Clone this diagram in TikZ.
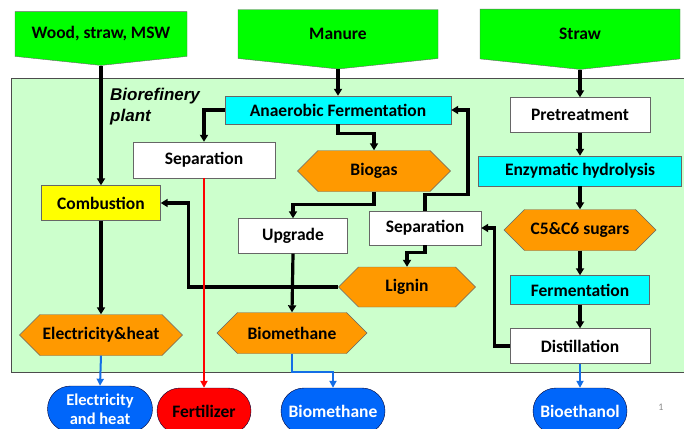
\documentclass[tikz,border=0pt]{standalone}
\usepackage{fontspec}
\setmainfont{Carlito}
\newfontfamily\plantfont{Liberation Sans}
\usetikzlibrary{arrows.meta,shapes.symbols,shapes.misc}

\definecolor{inGreen}{RGB}{0,255,0}
\definecolor{plantGreen}{RGB}{204,255,204}
\definecolor{procCyan}{RGB}{0,255,255}
\definecolor{prodOrange}{RGB}{255,153,0}
\definecolor{combYellow}{RGB}{255,255,0}
\definecolor{outBlue}{RGB}{0,102,250}
\definecolor{lineBlue}{RGB}{20,110,230}

\tikzset{
  every node/.style={font=\fontsize{17.5}{21}\selectfont\bfseries, inner sep=0pt},
  feed/.style={shape=signal, signal to=south, signal from=nowhere, signal pointer angle=168,
    fill=inGreen, draw=black!60, minimum width=172pt, minimum height=52pt},
  proc/.style={rectangle, draw=black!60, fill=white},
  prod/.style={shape=signal, signal to=east and west, signal pointer angle=90,
    fill=prodOrange, draw=black!60, minimum height=41pt},
  outlet/.style={rounded rectangle, draw=black!80!blue, fill=outBlue, text=white,
    minimum height=46pt, align=center},
  flow/.style={line width=3.2pt, -{Triangle[length=7pt,width=8pt]}},
  bflow/.style={line width=2pt, draw=lineBlue, -{Triangle[length=7pt,width=7pt]}, color=lineBlue},
}

\begin{document}
\begin{tikzpicture}[x=1pt,y=-1pt]
  \clip (0,0) rectangle (684,428);
  %\draw [help lines] (0,0) grid (684,428);
  \fill[white] (0,0) rectangle (684,428);
  \draw[black!70, fill=plantGreen] (11,78) rectangle (690,372);
  \node[align=left, anchor=north west, font=\fontsize{17}{21}\selectfont\plantfont\bfseries\itshape]
    (plant) at (110,88) {Biorefinery\\plant};

  % inputs
  \node[feed] (wood) at (101,34) {Wood, straw, MSW};
  \node[feed, minimum width=200pt] (manure) at (338,34) {Manure};
  \node[feed, minimum width=200pt] (straw) at (580,34) {Straw};

  % manure line
  \node[proc, fill=procCyan, minimum width=226pt, minimum height=28pt] (anaer) at (338,110) {Anaerobic Fermentation};
  \node[proc, minimum width=142pt, minimum height=36pt] (sepL) at (204,160) {Separation};
  \node[prod, minimum width=153pt] (biogas) at (374,171) {Biogas};
  \node[proc, minimum width=109pt, minimum height=35pt] (upgrade) at (293,236) {Upgrade};
  \node[prod, minimum width=150pt] (biometh) at (292,333) {Biomethane};

  % wood line
  \node[proc, fill=combYellow, minimum width=119pt, minimum height=35pt] (comb) at (101,203) {Combustion};
  \node[prod, minimum width=163pt] (elheat) at (101,335) {Electricity\&heat};

  % straw line
  \node[proc, minimum width=140pt, minimum height=35pt] (pretr) at (580,115) {Pretreatment};
  \node[proc, fill=procCyan, minimum width=203pt, minimum height=30pt] (enzym) at (580,171) {Enzymatic hydrolysis};
  \node[prod, minimum width=152pt] (sugars) at (580,230) {C5\&C6 sugars};
  \node[proc, fill=procCyan, minimum width=139pt, minimum height=29pt] (ferm) at (580,290) {Fermentation};
  \node[proc, minimum width=140pt, minimum height=35pt] (distil) at (580,346) {Distillation};
  \node[proc, minimum width=112pt, minimum height=34pt] (sepR) at (425,228) {Separation};
  \node[prod, minimum width=137pt, minimum height=40pt] (lignin) at (407,287) {Lignin};

  % outputs
  \node[outlet, minimum width=105pt, font=\fontsize{16.5}{19}\selectfont\bfseries] (elout) at (100,409) {Electricity\\and heat};
  \node[outlet, fill=red, text=black, minimum width=94pt] (fert) at (204,411) {Fertilizer};
  \node[outlet, minimum width=104pt] (bmout) at (333,411) {Biomethane};
  \node[outlet, minimum width=94pt] (beout) at (580,411) {Bioethanol};
  \node[font=\fontsize{10}{12}\selectfont, text=black!45] (page) at (661,407) {1};

  \draw[flow] (wood.south) -- (comb.north);
  \draw[flow] (comb.south) -- (elheat.north);
  \draw[flow] (manure.south) -- (anaer.north);
  \draw[flow] (anaer.west) -| (sepL.north);
  \draw[flow] (anaer.south) -- ++(0,9) -| (biogas.north);
  \draw[flow] (biogas.south) -- ++(0,13) -| (upgrade.north);
  \draw[flow] (upgrade.south) -- (biometh.north);
  \draw[flow] (lignin.west) -- ++(-150,0) |- (comb.east);
  \draw[flow] (sepR.south) -- ++(0,7) -| (lignin.north);
  \draw[flow] (sepR.north) -- ++(0,-16) -- ++(43,0) |- (anaer.east);
  \draw[flow] (distil.west) -- ++(-15,0) |- (sepR.east);
  \draw[flow] (straw.south) -- (pretr.north);
  \draw[flow] (pretr.south) -- (enzym.north);
  \draw[flow] (enzym.south) -- (sugars.north);
  \draw[flow] (sugars.south) -- (ferm.north);
  \draw[flow] (ferm.south) -- (distil.north);
  \draw[line width=2pt, red, -{Triangle[length=7pt,width=7pt]}] (sepL.south) -- (fert.north);
  \draw[bflow] (elheat.south) -- (elout.north);
  \draw[bflow] (biometh.south) -- ++(0,18) -| (bmout.north);
  \draw[bflow] (distil.south) -- (beout.north);
\end{tikzpicture}
\end{document}
